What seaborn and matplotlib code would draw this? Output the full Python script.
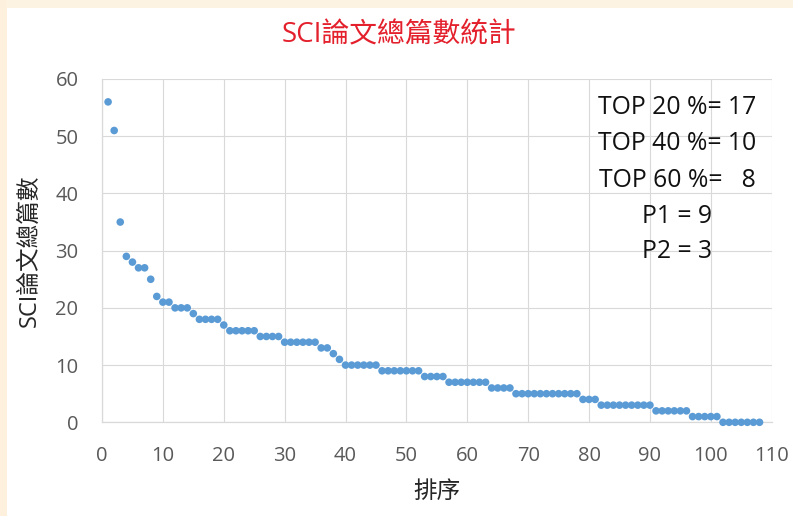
import matplotlib
matplotlib.use("Agg")
import matplotlib.pyplot as plt
import seaborn as sns
import pandas as pd
from matplotlib.patches import Rectangle

# ---- data ----
ranks = list(range(1, 109))
papers = [56, 51, 35, 29, 28, 27, 27, 25, 22, 21, 21,
          20, 20, 20, 19, 18, 18, 18, 18, 17,
          16, 16, 16, 16, 16, 15, 15, 15, 15,
          14, 14, 14, 14, 14, 14, 13, 13, 12, 11,
          10, 10, 10, 10, 10, 10,
          9, 9, 9, 9, 9, 9, 9,
          8, 8, 8, 8,
          7, 7, 7, 7, 7, 7, 7,
          6, 6, 6, 6,
          5, 5, 5, 5, 5, 5, 5, 5, 5, 5, 5,
          4, 4, 4,
          3, 3, 3, 3, 3, 3, 3, 3, 3,
          2, 2, 2, 2, 2, 2,
          1, 1, 1, 1, 1,
          0, 0, 0, 0, 0, 0, 0]
annotation_lines = ["TOP 20 %= 17", "TOP 40 %= 10", "TOP 60 %=   8", "P1 = 9", "P2 = 3"]
title_text = "SCI論文總篇數統計"
xlabel_text = "排序"
ylabel_text = "SCI論文總篇數"

df = pd.DataFrame({"rank": ranks, "papers": papers})

sns.set_theme(style="whitegrid")
plt.rcParams["font.family"] = ["Open Sans", "Noto Sans CJK TC", "DejaVu Sans"]

W, H = 793, 516
fig = plt.figure(figsize=(W / 100, H / 100), dpi=100, facecolor="white")

# cream frame strips (top and left)
fig.patches.append(Rectangle((0, 1 - 8 / H), 1, 8 / H, transform=fig.transFigure,
                             facecolor="#FDF3E3", edgecolor="none", zorder=0))
fig.patches.append(Rectangle((0, 0), 7 / W, 1, transform=fig.transFigure,
                             facecolor="#FDF0DC", edgecolor="none", zorder=0))

left, right = 102 / W, 771.7 / W
bottom, top = 1 - 422.3 / H, 1 - 79 / H
ax = fig.add_axes([left, bottom, right - left, top - bottom])
ax.set_facecolor("white")

sns.scatterplot(data=df, x="rank", y="papers", ax=ax, s=30, color="#5B9BD5",
                edgecolor="none", linewidth=0, clip_on=False, zorder=3)

ax.set_xlim(0, 110)
ax.set_ylim(0, 60)
ax.set_xticks(range(0, 111, 10))
ax.set_yticks(range(0, 61, 10))
ax.grid(True, color="#D9D9D9", linewidth=0.8)
for s in ["top", "right"]:
    ax.spines[s].set_visible(False)
for s in ["left", "bottom"]:
    ax.spines[s].set_color("#D9D9D9")
    ax.spines[s].set_linewidth(0.9)
ax.tick_params(axis="both", length=0, labelsize=14.5, labelcolor="#595959")
ax.tick_params(axis="x", pad=17)
ax.tick_params(axis="y", pad=17)

ax.set_xlabel("")
ax.set_ylabel("")

fig.text(436.5 / W, 1 - 491.5 / H, xlabel_text, ha="center", va="center",
         fontsize=17, color="#262626", family=["Noto Sans CJK TC"])
fig.text(30 / W, 1 - 251 / H, ylabel_text, ha="center", va="center", rotation=90,
         fontsize=17, color="#262626", family=["Open Sans", "Noto Sans CJK TC"])
fig.text(399 / W, 1 - 35 / H, title_text, ha="center", va="center",
         fontsize=20, color="#E3202C", family=["Open Sans", "Noto Sans CJK TC"])

line_y = [107.7, 144, 180.5, 216.5, 251]
for txt, yy in zip(annotation_lines, line_y):
    fig.text(677 / W, 1 - yy / H, txt, ha="center", va="center",
             fontsize=17.8, color="#111111", family=["Open Sans"])

fig.savefig("out.png", dpi=100, facecolor=fig.get_facecolor())
